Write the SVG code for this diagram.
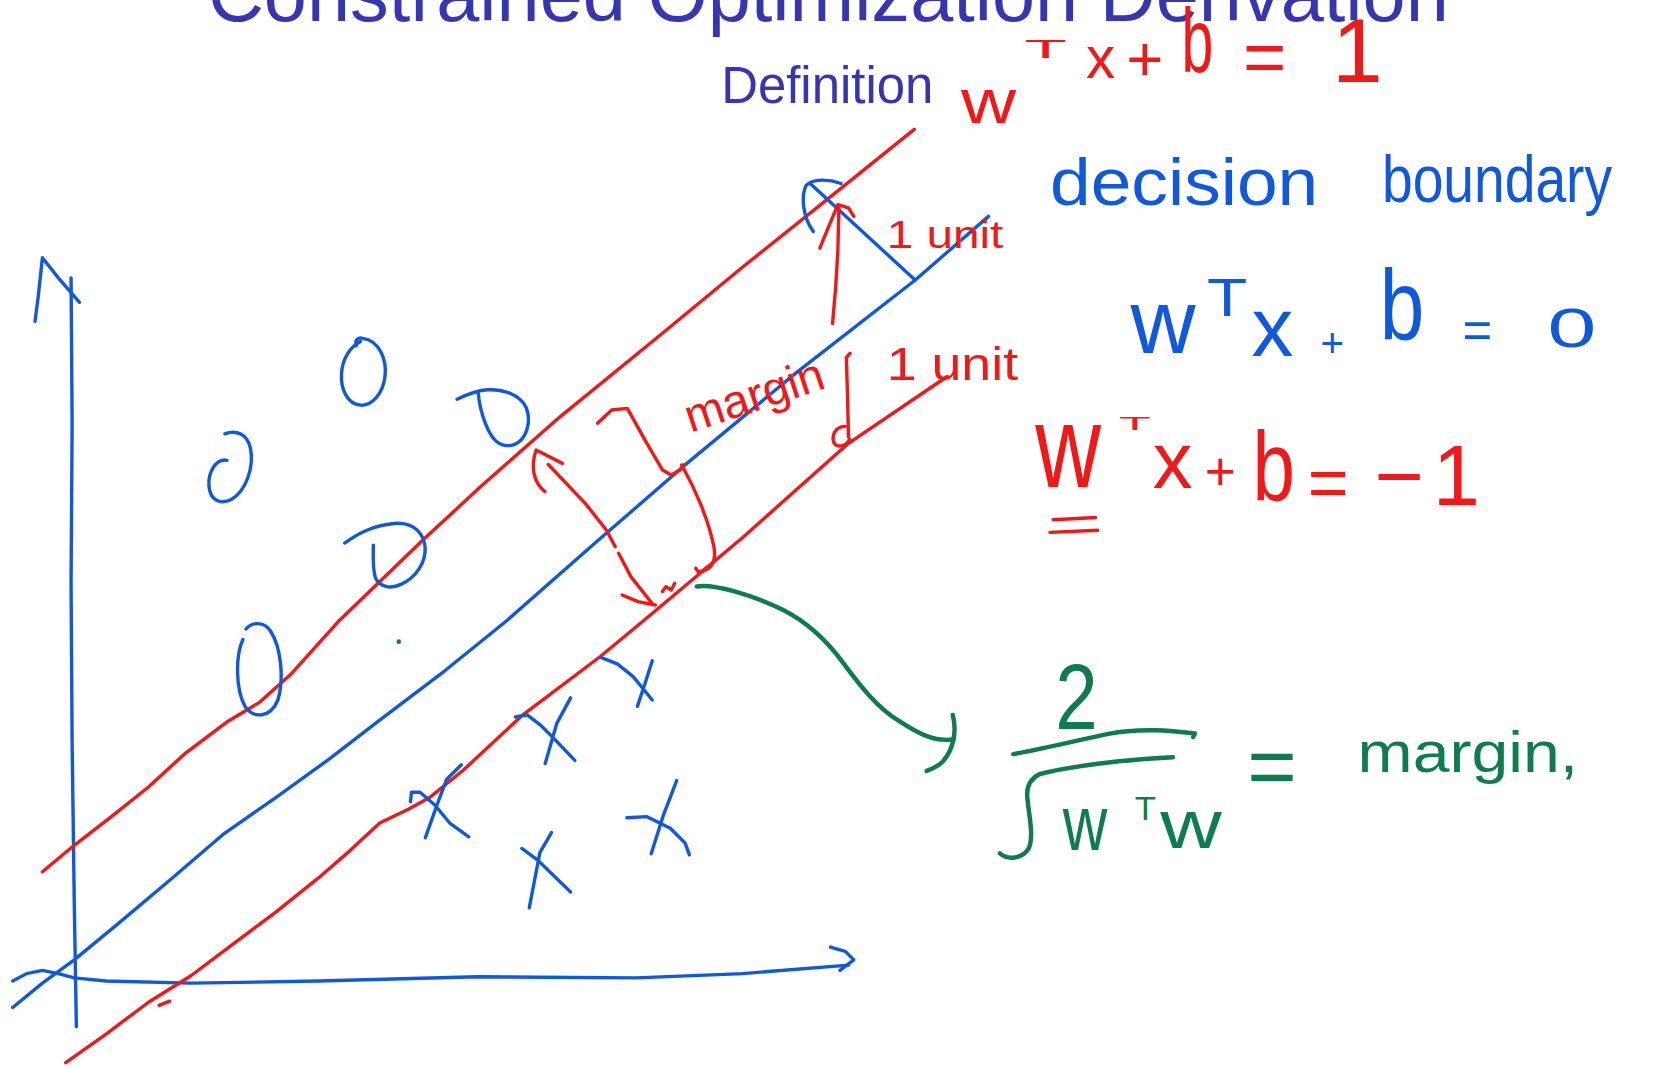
<svg xmlns="http://www.w3.org/2000/svg" width="1663" height="1068" viewBox="0 0 1663 1068">
<style>
.s{fill:none;stroke-linecap:round;stroke-linejoin:round;stroke-width:3.2}
.r{stroke:#f01818}
.b{stroke:#1058dc}
.g{stroke:#0f7c4e;stroke-width:4.2}
text{font-family:"Liberation Sans",Arial,sans-serif}
.tr{fill:#f01818}
.tb{fill:#1058dc}
.tg{fill:#0f7c4e}
.tt{fill:#3636b0}
</style>
<rect width="1663" height="1068" fill="#ffffff"/>
<g transform="scale(1.06059)">
<g id="title">
<text class="tt" x="196" y="19.5" font-size="73" textLength="1170" lengthAdjust="spacingAndGlyphs">Constrained Optimization Derivation</text>
<text class="tt" x="680" y="97.4" font-size="49" textLength="200" lengthAdjust="spacingAndGlyphs">Definition</text>
</g>
<g id="axes" class="s b">
<path d="M67,262 L68,400 L67,550 L68,700 L70,850 L72,968"/>
<path d="M33,303 L36,280 L40,243 L55,262 L75,285"/>
<path d="M12,925 L25,918 L40,915 L55,918 L70,922 L100,925 L180,927 L300,925 L450,921 L600,922 L700,918 L800,910"/>
<path d="M783,893 L797,897 L805,905 L792,915"/>
</g>
<g id="boundary-lines" class="s">
<path class="b" d="M12,950 L40,927 L70,905 L110,872 L160,830 L210,787 L260,752 L310,716 L358,679 L420,632 L478,585 L560,513 L644,440 L750,352 L863,264 L932,204"/>
<path class="r" d="M40,822 L70,797 L105,770 L140,742 L175,710 L215,680 L245,662 L275,635 L320,585 L399,509 L453,459 L528,393 L620,318 L700,252 L780,188 L862,122"/>
<path class="r" d="M62,1002 L100,975 L140,945 L180,920 L220,890 L260,860 L300,828 L330,802 L358,776 L385,763 L405,752 L437,726 L493,674 L566,619 L607,585 L700,507 L800,418 L893,355"/>
<path class="r" d="M150,948 L160,944"/>
</g>
<g id="circles" class="s b">
<path d="M336,326 C334,320 338,318 342,319 C358,321 365,340 363,355 C361,372 350,383 340,382 C327,381 321,366 322,352 C323,338 330,327 340,322"/>
<path d="M214,434 C204,432 196,445 197,458 C198,472 208,476 218,471 C232,463 240,440 236,422 C233,410 224,405 212,409"/>
<path d="M431,376.5 C440,372 450,368 460,367.5 C475,367 490,372 496,384 C501,396 497,410 490,416 C483,422 472,422 465,413 C458,404 452,385 451,371"/>
<path d="M325,512 C335,505 350,495 374,493.4 C390,493 399,502 400.8,515.4 C402,530 392,545 378,551 C368,556 358,553 354,545 C351,535 352,522 352,514"/>
<path d="M229,603 C222,618 222,650 231,666 C239,678 255,677 262,660 C268,640 265,610 255,595 C249,586 238,586 232,593"/>
</g>
<g id="crosses" class="s b">
<path d="M567,620 L582,626 L597,638 L615,660 M615,623 L608,645 L601,666"/>
<path d="M486,676 L497,674 L510,684 L521,695 L542,717 M538,658 L525,682 L514,720"/>
<path d="M387,756 L388,747 L396,747 L410,759 L424,776 L442,789 M435,721 L421,735 L412,759 L401,790"/>
<path d="M492,800 L507,811 L538,841 M520,785 L509,804 L499,856"/>
<path d="M591,771 L610,770 L632,781 L646,795 L650,806 M638,736 L625,770 L614,805"/>
</g>
<g id="margin-marks" class="s">
<path class="b" d="M763.6,172.8 L862.8,264"/>
<path class="b" d="M766.9,218.4 C757,205 755,185 760,175 C766,168 782,169 793,173"/>
<path class="r" d="M785,305 L788,270 L790,236 L791,195"/>
<path class="r" d="M773,234 L782,212 L790,193 L800,196 L805,204"/>
<path class="r" d="M801.6,333 L798,337 L799,370 L800,412"/>
<path class="r" d="M797,402 C788,402 784,410 786,417 C789,423 798,421 801,414"/>
<path class="r" d="M563.4,399 L576.7,386.6 L591.5,385 L608,414.8 L624.6,443.1 L632.9,447.8 L641.2,443.1 L644.5,438.4"/>
<path class="r" d="M642.8,438.4 C655,460 668,490 673,515 C676,530 670,537 660,539"/>
<path class="r" d="M513.8,463.6 C503,455 500,440 505.5,424.3 L530.3,436.9"/>
<path class="r" d="M517,438 L551.8,474.6 L571.7,499.7 L580,515.4"/>
<path class="r" d="M583.3,521.7 L594.8,543.7 L614.7,568.8"/>
<path class="r" d="M586.6,561 L601.5,567.3 L618,570.4"/>
<path class="r" d="M624.6,557.8 L627.9,553.1 L632.9,556.3 L636.2,550 M656,535.8 L659.3,540.6 L667.6,534.3"/>
<path class="r" d="M993,490 L1033,488 M990,502 L1035,500"/>
</g>
<g id="green-arrow" class="s g">
<path d="M657,553 C672,550 710,561 738,575 C760,586 778,602 795,625 C812,648 828,668 848,680 C866,692 882,700 899,697"/>
<path d="M898.3,674.1 C902,688 900,705 889,718 C884,723 879,725 873.7,726.9"/>
<path d="M955.4,711 C985,706 1020,697 1045,692 C1075,686 1105,689 1126.7,691.5 L1125,695"/>
<path d="M942.8,804.6 C950,811 964,810 970,800 C975,788 970,768 969,755 C967,743 970,735 980,730 C1005,723 1060,716 1106,714"/>
<circle cx="376" cy="605" r="2.2" fill="#0f7c4e" stroke="none"/>
</g>
<g id="eq-plus-one" class="tr">
<text x="906" y="116" font-size="60" textLength="52" lengthAdjust="spacingAndGlyphs">w</text>
<text x="966" y="55" font-size="24" textLength="40" lengthAdjust="spacingAndGlyphs">T</text>
<text x="1024" y="74" font-size="55">x</text>
<text x="1062" y="76" font-size="60">+</text>
<text x="1114" y="68" font-size="86" textLength="30" lengthAdjust="spacingAndGlyphs">b</text>
<text x="1172" y="77" font-size="70">=</text>
<text x="1256" y="77" font-size="86">1</text>
</g>
<g id="decision-boundary" class="tb">
<text x="990" y="193" font-size="62" textLength="253" lengthAdjust="spacingAndGlyphs">decision</text>
<text x="1303" y="190" font-size="62" textLength="217" lengthAdjust="spacingAndGlyphs">boundary</text>
</g>
<g id="eq-zero" class="tb">
<text x="1066" y="333" font-size="85">w</text>
<text x="1138" y="298" font-size="50" textLength="38" lengthAdjust="spacingAndGlyphs">T</text>
<text x="1180" y="336" font-size="79">x</text>
<text x="1245" y="337" font-size="38">+</text>
<text x="1301" y="321" font-size="95" textLength="42" lengthAdjust="spacingAndGlyphs">b</text>
<text x="1379" y="328" font-size="48">=</text>
<text x="1459" y="327" font-size="53" textLength="46" lengthAdjust="spacingAndGlyphs">0</text>
</g>
<g id="eq-minus-one" class="tr">
<text x="976" y="459" font-size="110" textLength="62" lengthAdjust="spacingAndGlyphs">w</text>
<text x="1055" y="405" font-size="18" textLength="30" lengthAdjust="spacingAndGlyphs">T</text>
<text x="1087" y="460" font-size="75">x</text>
<text x="1136" y="462" font-size="50">+</text>
<text x="1181" y="471" font-size="92" textLength="40" lengthAdjust="spacingAndGlyphs">b</text>
<text x="1233" y="478" font-size="66">=</text>
<text x="1296" y="476" font-size="80">−</text>
<text x="1351" y="476" font-size="80">1</text>
</g>
<g id="labels" class="tr">
<text x="836" y="234" font-size="36" textLength="110" lengthAdjust="spacingAndGlyphs">1 unit</text>
<text x="836" y="358" font-size="44" textLength="124" lengthAdjust="spacingAndGlyphs">1 unit</text>
<text x="651" y="408" font-size="44" textLength="136" lengthAdjust="spacingAndGlyphs" transform="rotate(-18.2 651 408)">margin</text>
</g>
<g id="margin-formula" class="tg">
<text x="995" y="687" font-size="88" textLength="40" lengthAdjust="spacingAndGlyphs">2</text>
<text x="1002" y="801" font-size="73" textLength="42" lengthAdjust="spacingAndGlyphs">w</text>
<text x="1070" y="773" font-size="31" textLength="20" lengthAdjust="spacingAndGlyphs">T</text>
<text x="1094" y="800" font-size="64" textLength="58" lengthAdjust="spacingAndGlyphs">w</text>
<text x="1176" y="750" font-size="80">=</text>
<text x="1280" y="728" font-size="54" textLength="208" lengthAdjust="spacingAndGlyphs">margin,</text>
</g>
</g>
</svg>
